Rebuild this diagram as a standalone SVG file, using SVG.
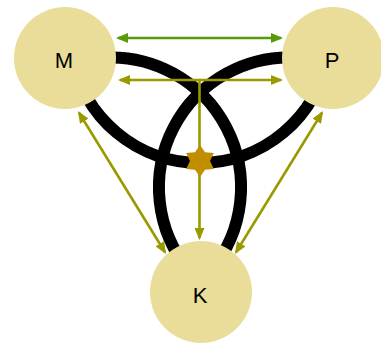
<svg xmlns="http://www.w3.org/2000/svg" width="381" height="345" viewBox="0 0 381 345">
  <style>
    .arc { fill: none; stroke: #000; stroke-width: 12; }
    .node { fill: #e9dd99; }
    .label { font-family: "Liberation Sans", Arial, sans-serif; font-size: 22px; fill: #000; text-anchor: middle; }
    .green { stroke: #5a9a08; stroke-width: 2.6; fill: none; }
    .olive { stroke: #999900; stroke-width: 2.6; fill: none; }
  </style>
  <defs>
    <filter id="soft" x="-5%" y="-5%" width="110%" height="110%">
      <feGaussianBlur stdDeviation="0.7"/>
    </filter>
    <marker id="ag" viewBox="0 0 12 10" refX="10" refY="5" markerWidth="12" markerHeight="10" markerUnits="userSpaceOnUse" orient="auto-start-reverse">
      <path d="M0,0 L12,5 L0,10 z" fill="#5a9a08"/>
    </marker>
    <marker id="ao" viewBox="0 0 12 10" refX="10" refY="5" markerWidth="12" markerHeight="10" markerUnits="userSpaceOnUse" orient="auto-start-reverse">
      <path d="M0,0 L12,5 L0,10 z" fill="#999900"/>
    </marker>
  </defs>
  <g id="knot" filter="url(#soft)">
    <path class="arc" d="M72,55.6 A130,130 0 0 0 328,55.6"/>
    <path class="arc" d="M99.7,58 A130,130 0 0 1 210.6,271.1"/>
    <path class="arc" d="M300.3,58 A130,130 0 0 0 189.4,271.1"/>
  </g>
  <g id="node-M"><circle class="node" cx="65" cy="58" r="51"/><text class="label" x="64" y="67.5">M</text></g>
  <g id="node-P"><circle class="node" cx="333" cy="58" r="51"/><text class="label" x="332" y="67.5">P</text></g>
  <g id="node-K"><circle class="node" cx="201" cy="292" r="51"/><text class="label" x="200" y="303">K</text></g>
  <g id="connectors">
    <line class="green" x1="118" y1="38" x2="281" y2="38" marker-start="url(#ag)" marker-end="url(#ag)"/>
    <line class="olive" x1="120" y1="80" x2="281" y2="80" marker-start="url(#ao)" marker-end="url(#ao)"/>
    <line class="olive" x1="199.5" y1="80" x2="199.5" y2="238"/>
    <line class="olive" x1="199.5" y1="230" x2="199.5" y2="238" marker-end="url(#ao)"/>
    <line class="olive" x1="79" y1="112.7" x2="165" y2="252.3" marker-start="url(#ao)" marker-end="url(#ao)"/>
    <line class="olive" x1="322" y1="112.7" x2="236" y2="252.3" marker-start="url(#ao)" marker-end="url(#ao)"/>
  </g>
  <g id="star">
    <polygon fill="#bf8f00" points="200,145 205,152.34 213.86,153 210,161 213.86,169 205,169.66 200,177 195,169.66 186.14,169 190,161 186.14,153 195,152.34"/>
  </g>
</svg>
